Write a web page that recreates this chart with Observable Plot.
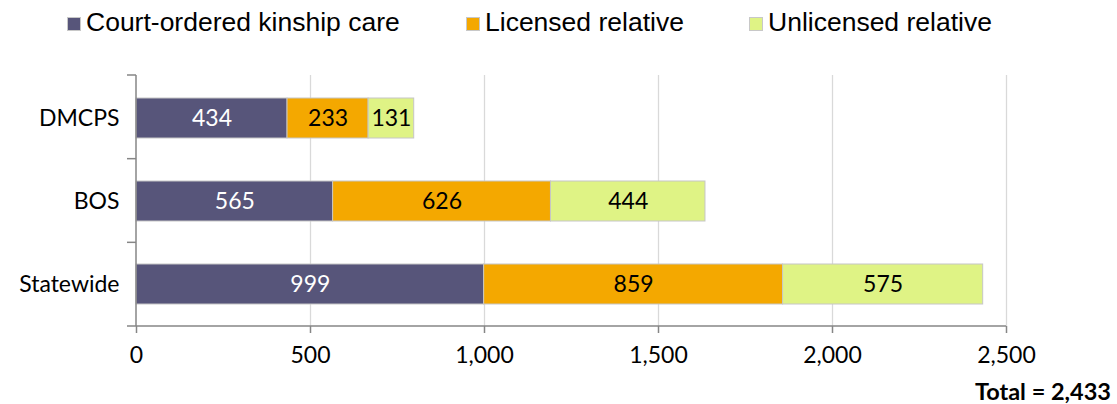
<!DOCTYPE html>
<html>
<head>
<meta charset="utf-8">
<script src="https://cdn.jsdelivr.net/npm/d3@7"></script>
<script src="https://cdn.jsdelivr.net/npm/@observablehq/plot@0.6"></script>
<style>
  html, body { margin: 0; padding: 0; background: #fff; }
  #wrap { position: relative; width: 1117px; height: 404px; overflow: hidden; }
  #legend { position: relative; height: 45px; font-family: "Liberation Sans", Arial, sans-serif; font-size: 26.5px; color: #000; }
  .sw { position: absolute; top: 17px; width: 14px; height: 14px; box-sizing: border-box; border: 1px solid #c8c8c8; }
  .lt { position: absolute; top: 9px; line-height: 26.5px; white-space: nowrap; }
  #caption { position: absolute; right: 6px; top: 377px; font-family: Lato, "Open Sans", sans-serif; font-weight: bold; font-size: 23.5px; color: #000; }
  svg { display: block; }
</style>
</head>
<body>
<div id="wrap">
  <div id="legend"></div>
  <div id="chart"></div>
  <div id="caption"></div>
</div>
<script>
const categories = ["DMCPS", "BOS", "Statewide"];
const series = ["Court-ordered kinship care", "Licensed relative", "Unlicensed relative"];
const courtOrdered = [434, 565, 999];
const licensed = [233, 626, 859];
const unlicensed = [131, 444, 575];
const xTicks = [0, 500, 1000, 1500, 2000, 2500];
const total = 2433;
const colors = ["#57557a", "#f4a800", "#dff385"];
const legendLeft = [67, 466, 749];

const valuesBySeries = [courtOrdered, licensed, unlicensed];
const data = [];
series.forEach((s, si) => categories.forEach((c, ci) => data.push({category: c, series: s, value: valuesBySeries[si][ci]})));

const fmt = d3.format(",");

// legend
const legend = document.getElementById("legend");
series.forEach((s, i) => {
  const sw = document.createElement("span");
  sw.className = "sw";
  sw.style.left = legendLeft[i] + "px";
  sw.style.background = colors[i];
  const lt = document.createElement("span");
  lt.className = "lt";
  lt.style.left = (legendLeft[i] + 19) + "px";
  lt.textContent = s;
  legend.appendChild(sw);
  legend.appendChild(lt);
});
document.getElementById("caption").textContent = "Total = " + fmt(total);

const axisGray = "#868686";
function decor(index, scales, values, dims) {
  const {width, height, marginLeft, marginRight, marginTop, marginBottom} = dims;
  const top = marginTop, bottom = height - marginBottom;
  const n = categories.length;
  const step = (bottom - top) / n;
  const g = d3.create("svg:g").attr("stroke", axisGray).attr("stroke-width", 1.5).attr("fill", "none");
  g.append("line").attr("x1", marginLeft).attr("x2", marginLeft).attr("y1", top).attr("y2", bottom);
  g.append("line").attr("x1", marginLeft - 9).attr("x2", width - marginRight).attr("y1", bottom).attr("y2", bottom);
  for (let k = 0; k < n; k++) {
    const yy = top + k * step;
    g.append("line").attr("x1", marginLeft - 9).attr("x2", marginLeft).attr("y1", yy).attr("y2", yy);
  }
  return g.node();
}

const labelOpts = (light) => Plot.stackX({
  x: "value", y: "category", z: "series", order: series,
  text: d => ((d.series === series[0]) === light ? fmt(d.value) : ""),
  fill: light ? "#fff" : "#000", fontSize: 23
});

const chart = Plot.plot({
  width: 1117,
  height: 335,
  marginLeft: 136,
  marginRight: 111,
  marginTop: 30,
  marginBottom: 54,
  style: {fontFamily: "Lato, 'Open Sans', sans-serif", fontSize: "23px", color: "#000", background: "#fff"},
  x: {domain: [0, 2500], ticks: xTicks, label: null, tickFormat: fmt},
  y: {domain: categories, paddingInner: 0.52, paddingOuter: 0.26, label: null},
  color: {domain: series, range: colors},
  marks: [
    Plot.gridX(xTicks.slice(1), {stroke: "#d9d9d9", strokeOpacity: 1, strokeWidth: 1.3}),
    Plot.barX(data, Plot.stackX({x: "value", y: "category", fill: "series", order: series, stroke: "#c6c6c6", strokeWidth: 1})),
    Plot.text(data, labelOpts(true)),
    Plot.text(data, labelOpts(false)),
    Plot.axisY({tickSize: 0, tickPadding: 17, fontSize: 23, fill: "#000"}),
    Plot.axisX(xTicks, {tickSize: 7, tickPadding: 13, tickFormat: fmt, stroke: axisGray, strokeWidth: 1.5, fill: "#000", fontSize: 23}),
    decor
  ]
});
document.getElementById("chart").appendChild(chart);
</script>
</body>
</html>
